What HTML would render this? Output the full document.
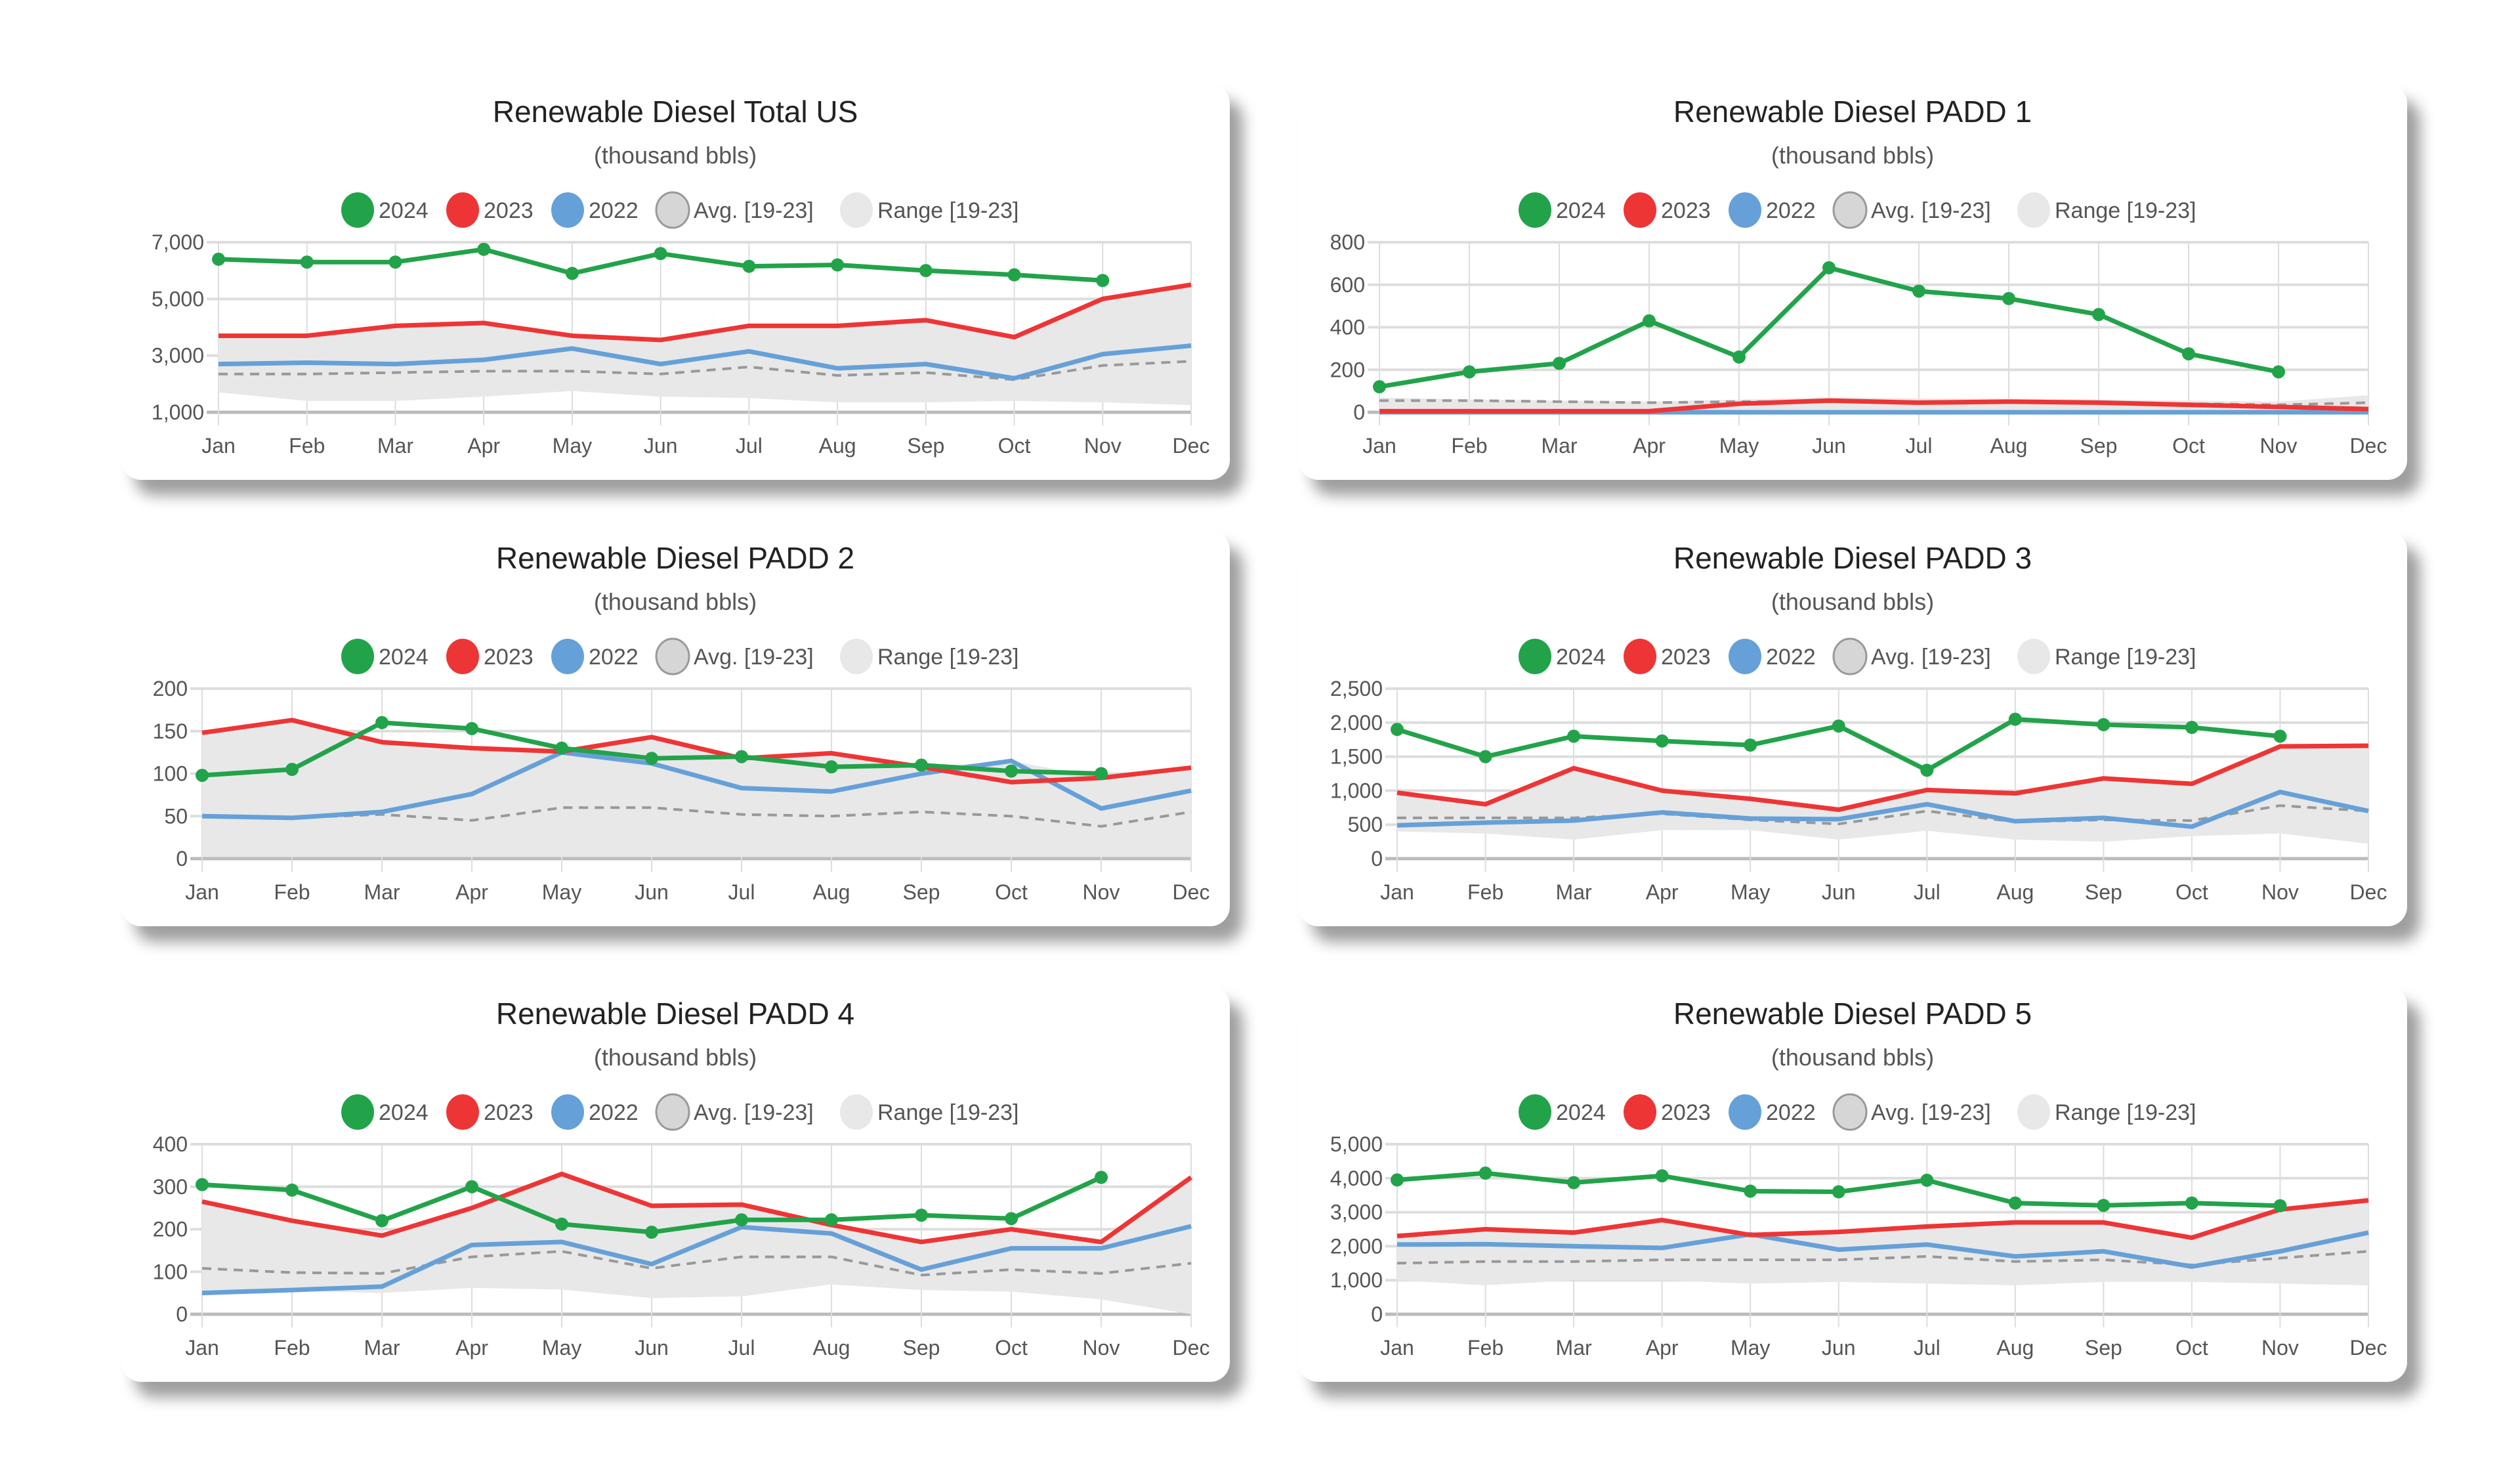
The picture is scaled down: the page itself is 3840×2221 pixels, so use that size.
<!DOCTYPE html>
<html><head><meta charset="utf-8"><style>
html,body{margin:0;padding:0;background:#fff;}
body{width:3840px;height:2221px;position:relative;overflow:hidden;font-family:"Liberation Sans Narrow","Liberation Sans",sans-serif;}
.card{position:absolute;width:1689px;height:603px;background:#fff;border-radius:30px;box-shadow:20px 24px 22px rgba(0,0,0,0.38);}
.card svg{position:absolute;left:0;top:0;}
</style></head><body>
<script>
const months=["Jan","Feb","Mar","Apr","May","Jun","Jul","Aug","Sep","Oct","Nov","Dec"];
const titles=["Renewable Diesel Total US","Renewable Diesel PADD 1","Renewable Diesel PADD 2","Renewable Diesel PADD 3","Renewable Diesel PADD 4","Renewable Diesel PADD 5"];
const ticksTotal=[1000,3000,5000,7000];
const ticksP1=[0,200,400,600,800];
const ticksP2=[0,50,100,150,200];
const ticksP3=[0,500,1000,1500,2000,2500];
const ticksP4=[0,100,200,300,400];
const ticksP5=[0,1000,2000,3000,4000,5000];
const s2024Total=[6400,6300,6300,6750,5900,6600,6150,6200,6000,5850,5650];
const s2023Total=[3700,3700,4050,4150,3700,3550,4050,4050,4250,3650,5000,5500];
const s2022Total=[2700,2750,2700,2850,3250,2700,3150,2550,2700,2200,3050,3350];
const avgTotal=[2350,2350,2400,2450,2450,2350,2600,2300,2400,2150,2650,2800];
const lowTotal=[1700,1400,1400,1550,1750,1550,1500,1350,1350,1400,1350,1250];
const highTotal=[3650,3650,4000,4100,3650,3500,4000,4000,4200,3600,5000,5450];
const s2024P1=[120,190,230,430,260,680,570,535,460,275,190];
const s2023P1=[5,5,5,5,40,55,45,50,45,35,25,15];
const s2022P1=[0,0,0,0,0,0,0,0,0,0,0,0];
const avgP1=[55,55,50,45,50,50,50,50,45,40,35,45];
const lowP1=[0,0,0,0,0,0,0,0,0,0,0,0];
const highP1=[70,60,55,50,60,70,65,65,60,55,50,80];
const s2024P2=[98,105,160,153,130,118,120,108,110,103,100];
const s2023P2=[148,163,137,130,126,143,118,124,108,90,95,107];
const s2022P2=[50,48,55,76,125,112,83,79,100,115,59,80];
const avgP2=[50,48,52,45,60,60,52,50,55,50,38,55];
const lowP2=[2,2,2,2,2,2,2,2,2,2,2,2];
const highP2=[148,163,137,130,126,143,118,124,108,115,95,107];
const s2024P3=[1900,1500,1800,1730,1670,1950,1300,2050,1970,1930,1800];
const s2023P3=[970,800,1330,1000,880,720,1010,960,1180,1100,1650,1660];
const s2022P3=[490,530,560,680,590,580,800,550,600,470,980,700];
const avgP3=[600,600,600,660,570,510,700,540,570,560,780,700];
const lowP3=[400,370,280,420,420,280,410,280,250,330,370,220];
const highP3=[950,790,1310,980,860,700,990,940,1160,1080,1640,1640];
const s2024P4=[305,292,220,300,212,193,222,222,233,225,322];
const s2023P4=[265,220,185,250,330,255,258,210,170,200,170,322];
const s2022P4=[50,57,65,163,170,118,205,190,105,155,155,207];
const avgP4=[108,98,96,135,148,108,135,135,92,105,96,120];
const lowP4=[50,55,50,62,58,38,42,70,57,53,35,0];
const highP4=[262,218,183,248,328,253,256,208,168,198,168,318];
const s2024P5=[3950,4150,3870,4070,3620,3600,3940,3270,3200,3270,3190];
const s2023P5=[2300,2500,2400,2770,2330,2420,2580,2700,2700,2250,3080,3350];
const s2022P5=[2050,2060,2000,1950,2350,1900,2050,1700,1850,1400,1850,2400];
const avgP5=[1500,1550,1550,1600,1600,1600,1700,1550,1600,1450,1650,1850];
const lowP5=[1000,850,1000,1000,900,950,900,850,950,950,900,850];
const highP5=[2280,2480,2380,2750,2310,2400,2560,2680,2680,2230,3060,3330];

const panels=[
 {left:185,top:128,t:ticksTotal,a:s2024Total,b:s2023Total,c:s2022Total,avg:avgTotal,lo:lowTotal,hi:highTotal,x0:148,name:"total-us"},
 {left:1979,top:128,t:ticksP1,a:s2024P1,b:s2023P1,c:s2022P1,avg:avgP1,lo:lowP1,hi:highP1,x0:123,name:"padd1"},
 {left:185,top:808,t:ticksP2,a:s2024P2,b:s2023P2,c:s2022P2,avg:avgP2,lo:lowP2,hi:highP2,x0:123,name:"padd2"},
 {left:1979,top:808,t:ticksP3,a:s2024P3,b:s2023P3,c:s2022P3,avg:avgP3,lo:lowP3,hi:highP3,x0:150,name:"padd3"},
 {left:185,top:1502,t:ticksP4,a:s2024P4,b:s2023P4,c:s2022P4,avg:avgP4,lo:lowP4,hi:highP4,x0:123,name:"padd4"},
 {left:1979,top:1502,t:ticksP5,a:s2024P5,b:s2023P5,c:s2022P5,avg:avgP5,lo:lowP5,hi:highP5,x0:150,name:"padd5"}
];
const NS="http://www.w3.org/2000/svg";
function mk(tag,attrs,parent){const e=document.createElementNS(NS,tag);for(const k in attrs)e.setAttribute(k,attrs[k]);parent.appendChild(e);return e;}
function fmt(v){return v.toLocaleString("en-US");}
panels.forEach((p,pi)=>{
  const card=document.createElement('div');
  card.className='card';
  
  
  card.style.left=p.left+'px';card.style.top=p.top+'px';
  document.body.appendChild(card);
  const svg=mk('svg',{width:1689,height:603},card);
  
  
  const ff='"Liberation Sans Narrow","Liberation Sans",sans-serif';
  const title=mk('text',{x:844,y:58,'text-anchor':'middle','font-size':46,'font-family':ff,fill:'#222'},svg);
  title.textContent=titles[pi];
  
  
  const sub=mk('text',{x:844,y:121,'text-anchor':'middle','font-size':36,'font-family':ff,fill:'#555'},svg);
  sub.textContent='(thousand bbls)';
  
  
  const leg=[["2024","#22a34a",null],["2023","#ee3535",null],["2022","#66a0d8",null],["Avg. [19-23]","#d6d6d6","#999"],["Range [19-23]","#e8e8e8",null]];
  const widths=[70,70,70,190,215];
  let lx=360;
  leg.forEach((l,i)=>{
    const g=mk('g',{},svg);
    
    
    mk('ellipse',{cx:lx,cy:192,rx:25,ry:27,fill:l[1],stroke:l[2]||'none','stroke-width':3},g);
    const t=mk('text',{x:lx+32,y:204,'font-size':34,'font-family':ff,fill:'#555'},g);
    t.textContent=l[0];
    lx+=32+widths[i]+58;
  });
  const t=p.t, ymin=t[0], ymax=t[t.length-1];
  const top=241,bot=500,x0=p.x0,x1=1630;
  const X=i=>x0+(x1-x0)*i/11;
  const Y=v=>bot-(v-ymin)/(ymax-ymin)*(bot-top);
  t.forEach(v=>{
    mk('line',{x1:x0-18,x2:x1,y1:Y(v),y2:Y(v),stroke:v===ymin?'#bbb':'#ddd','stroke-width':v===ymin?5:4},svg);
    const tl=mk('text',{x:x0-22,y:Y(v)+11,'text-anchor':'end','font-size':32,'font-family':ff,fill:'#555'},svg);
    tl.textContent=fmt(v);
    
    
  });
  months.forEach((m,i)=>{
    mk('line',{x1:X(i),x2:X(i),y1:top,y2:bot+20,stroke:'#ddd','stroke-width':2},svg);
    const ml=mk('text',{x:X(i),y:562,'text-anchor':'middle','font-size':32,'font-family':ff,fill:'#555'},svg);
    ml.textContent=m;
    
    
  });
  let d='';
  p.hi.forEach((v,i)=>{d+=(i?'L':'M')+X(i)+','+Y(v);});
  for(let i=p.lo.length-1;i>=0;i--)d+='L'+X(i)+','+Y(p.lo[i]);
  const area=mk('path',{d:d+'Z',fill:'#e8e8e8'},svg);
  
  
  function line(arr,color,name,dash){
    const pts=arr.map((v,i)=>X(i)+','+Y(v)).join(' ');
    const pl=mk('polyline',{points:pts,fill:'none',stroke:color,'stroke-width':dash?4:7,'stroke-linejoin':'round','stroke-dasharray':dash||'none'},svg);
    
    
  }
  line(p.avg,'#999','avg-line','14 10');
  line(p.c,'#66a0d8','line-2022');
  line(p.b,'#ee3535','line-2023');
  line(p.a,'#22a34a','line-2024');
  p.a.forEach((v,i)=>{
    const c=mk('circle',{cx:X(i),cy:Y(v),r:10,fill:'#22a34a'},svg);
    
    
  });
});
</script>
</body></html>
